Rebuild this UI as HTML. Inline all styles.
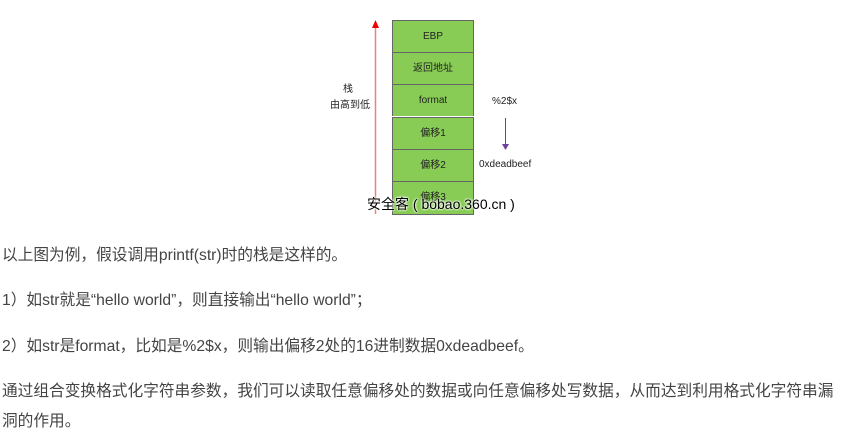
<!DOCTYPE html>
<html><head><meta charset="utf-8"><style>
body{margin:0;width:861px;height:435px;background:#fff;position:relative;overflow:hidden;font-family:"Liberation Sans","Noto Sans CJK SC",sans-serif;}
.t{position:absolute;left:2px;font-size:15.7px;color:#444;white-space:nowrap;line-height:20px;}
.cell{position:absolute;left:392px;width:80px;height:31px;background:#88cc55;border:1px solid #666;border-bottom:none;font-size:10px;color:#222;text-align:center;line-height:31px;}
.s{position:absolute;font-size:10px;color:#222;white-space:nowrap;}
</style></head><body>
<div class="cell" style="top:20px">EBP</div>
<div class="cell" style="top:52px">返回地址</div>
<div class="cell" style="top:84px">format</div>
<div class="cell" style="top:117px">偏移1</div>
<div class="cell" style="top:149px">偏移2</div>
<div class="cell" style="top:181px;height:32px;border-bottom:1px solid #666">偏移3</div>
<svg style="position:absolute;left:0;top:0" width="861" height="235">
<line x1="375.5" y1="26" x2="375.5" y2="214" stroke="#f08080" stroke-width="1.5"/>
<polygon points="372,28 379,28 375.5,20" fill="#e00"/>
<line x1="505.5" y1="118" x2="505.5" y2="146" stroke="#7040a0" stroke-width="1"/>
<polygon points="502,144 509,144 505.5,150" fill="#7040a0"/>
</svg>
<div class="s" style="left:343px;top:80px">栈</div>
<div class="s" style="left:330px;top:96px">由高到低</div>
<div class="s" style="left:492px;top:96px">%2$x</div>
<div class="s" style="left:479px;top:159px">0xdeadbeef</div>
<div style="position:absolute;left:367px;top:194px;font-size:14px;color:#000;text-shadow:0 0 2px #fff,0 0 2px #fff,0 0 2px #fff;white-space:nowrap">安全客 ( bobao.360.cn )</div>
<div class="t" style="top:246px">以上图为例，假设调用printf(str)时的栈是这样的。</div>
<div class="t" style="top:291px">1）如str就是“hello world”，则直接输出“hello world”；</div>
<div class="t" style="top:337px">2）如str是format，比如是%2$x，则输出偏移2处的16进制数据0xdeadbeef。</div>
<div class="t" style="top:382px">通过组合变换格式化字符串参数，我们可以读取任意偏移处的数据或向任意偏移处写数据，从而达到利用格式化字符串漏</div>
<div class="t" style="top:412px">洞的作用。</div>
</body></html>
